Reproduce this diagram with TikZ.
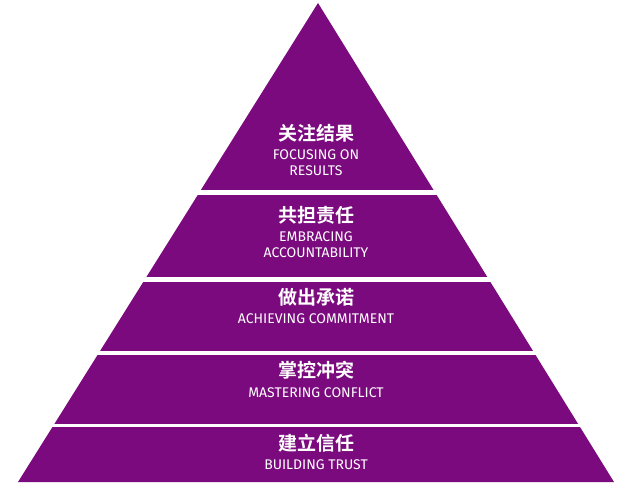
\documentclass[tikz,border=0pt]{standalone}
\usepackage{fontspec}
\setmainfont{Fira Sans}
\newfontfamily\cjk{Noto Sans CJK SC}[BoldFont={* Bold}]
\definecolor{pyrpurple}{HTML}{7B0A7E}
\tikzset{
  cn/.style={text=white,font=\cjk\bfseries\fontsize{19}{19}\selectfont,inner sep=0pt},
  en/.style={text=white,font=\fontsize{14}{16}\selectfont,inner sep=0pt,align=center},
  gap/.style={fill=white}
}
\begin{document}
\begin{tikzpicture}[x=1pt,y=-1pt]
\useasboundingbox (0,0) rectangle (640,493);
\fill[pyrpurple] (318,3) coordinate (apex) -- (614,482) coordinate (br) -- (18,482) coordinate (bl) -- cycle;
% white gaps between the layers
\foreach \ya/\yb in {190/195, 277/282, 351/355, 424/427}
  \fill[gap] (0,\ya) rectangle (640,\yb);
% layers, top to bottom
\node[cn] (t1) at (316,133) {关注结果};
\node[en] (e1) at (316,163) {FOCUSING ON\\RESULTS};
\node[cn] (t2) at (316,215) {共担责任};
\node[en] (e2) at (316,245) {EMBRACING\\ACCOUNTABILITY};
\node[cn] (t3) at (316,297) {做出承诺};
\node[en] (e3) at (316,319) {ACHIEVING COMMITMENT};
\node[cn] (t4) at (316,370) {掌控冲突};
\node[en] (e4) at (316,393) {MASTERING CONFLICT};
\node[cn] (t5) at (316,443) {建立信任};
\node[en] (e5) at (316,465) {BUILDING TRUST};
\end{tikzpicture}
\end{document}
